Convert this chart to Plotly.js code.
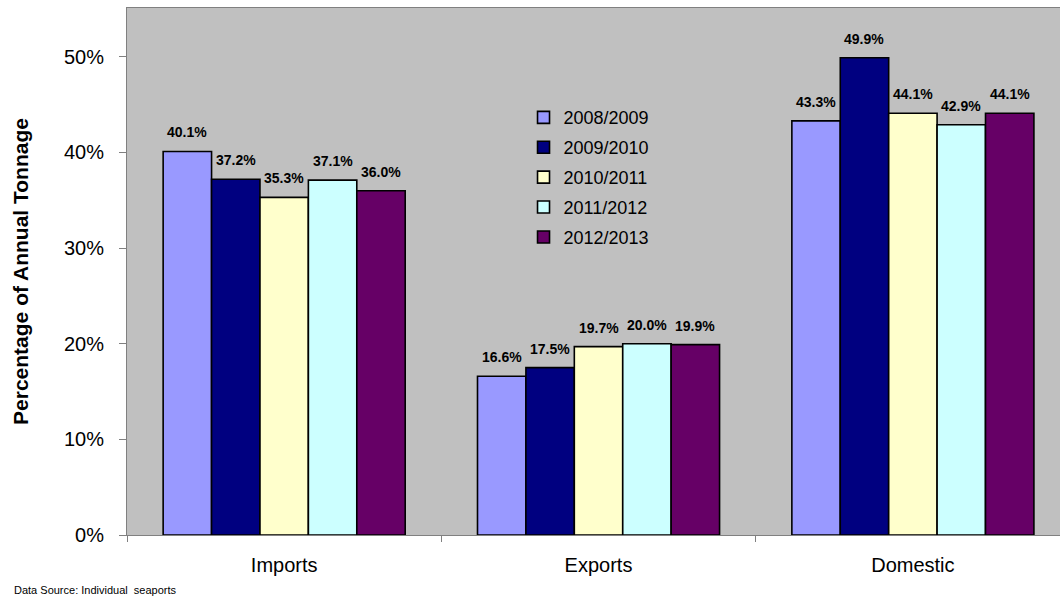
<!DOCTYPE html>
<html>
<head>
<meta charset="utf-8">
<script src="https://cdn.plot.ly/plotly-3.0.1.min.js"></script>
<style>
html,body{margin:0;padding:0;background:#fff;}
#chart{width:1060px;height:603px;}
</style>
</head>
<body>
<div id="chart"></div>
<script>
const categories = ["Imports", "Exports", "Domestic"];
const seriesNames = ["2008/2009", "2009/2010", "2010/2011", "2011/2012", "2012/2013"];
const s2008 = [40.1, 16.6, 43.3];
const s2009 = [37.2, 17.5, 49.9];
const s2010 = [35.3, 19.7, 44.1];
const s2011 = [37.1, 20.0, 42.9];
const s2012 = [36.0, 19.9, 44.1];
const seriesValues = [s2008, s2009, s2010, s2011, s2012];
const seriesColors = ["#9999FF", "#000080", "#FFFFCC", "#CCFFFF", "#660066"];
const yTickVals = [0, 10, 20, 30, 40, 50];
const yTickText = ["0%", "10%", "20%", "30%", "40%", "50%"];

const arial = 'Arial, "Liberation Sans", sans-serif';

const traces = seriesNames.map((name, i) => ({
  type: 'bar',
  name: name,
  x: categories,
  y: seriesValues[i],
  legendgroup: 'g' + i,
  marker: {color: seriesColors[i], line: {color: '#000000', width: 1.6}},
  hoverinfo: 'skip'
}));

const plotW = 1060 - 127;
const xRange = [-0.5, 2.468];
const pxPerCat = plotW / (xRange[1] - xRange[0]);
const bargap = 0.23;
const barPx = pxPerCat * (1 - bargap) / seriesNames.length;

const annotations = [];
seriesValues.forEach((vals, i) => {
  vals.forEach((v, j) => {
    annotations.push({
      x: categories[j], y: v, xref: 'x', yref: 'y',
      text: v.toFixed(1) + '%',
      showarrow: false,
      xanchor: 'center', yanchor: 'bottom',
      xshift: (i - (seriesNames.length - 1) / 2) * barPx,
      yshift: 9,
      font: {family: arial, size: 14, color: '#000', weight: 'bold'}
    });
  });
});
annotations.push({
  xref: 'paper', yref: 'paper',
  x: (12 - 127) / plotW, y: (535 - 590) / 527,
  xanchor: 'left', yanchor: 'middle',
  text: 'Data Source: Individual  seaports',
  showarrow: false,
  font: {family: arial, size: 11, color: '#000'}
});

const layout = {
  width: 1060, height: 603,
  margin: {l: 127, r: 0, t: 8, b: 68, pad: 0},
  paper_bgcolor: '#ffffff',
  plot_bgcolor: '#C0C0C0',
  barmode: 'group',
  bargap: bargap,
  bargroupgap: 0,
  showlegend: true,
  legend: {
    x: 0.425, y: 0.827, xanchor: 'left', yanchor: 'top',
    bgcolor: 'rgba(0,0,0,0)',
    font: {family: arial, size: 18, color: '#000'},
    tracegroupgap: 3.5,
    traceorder: 'grouped'
  },
  xaxis: {
    type: 'category',
    range: xRange,
    showline: true, linecolor: '#808080', linewidth: 1, mirror: true,
    ticks: 'outside', tickson: 'boundaries', ticklen: 6, tickcolor: '#808080',
    tickfont: {family: arial, size: 20, color: '#000'},
    ticklabelstandoff: 12,
    showgrid: false, zeroline: false, fixedrange: true
  },
  yaxis: {
    range: [0, 55.1],
    tickvals: yTickVals, ticktext: yTickText,
    showline: true, linecolor: '#808080', linewidth: 1,
    ticks: 'outside', ticklen: 7, tickcolor: '#808080',
    tickfont: {family: arial, size: 20, color: '#000'},
    ticklabelstandoff: 11,
    showgrid: false, zeroline: false, fixedrange: true,
    title: {text: 'Percentage of Annual Tonnage', font: {family: arial, size: 21, color: '#000', weight: 'bold'}, standoff: 29}
  },
  annotations: annotations,
  font: {family: arial, color: '#000'}
};

Plotly.newPlot('chart', traces, layout, {displayModeBar: false, staticPlot: true});
</script>
</body>
</html>
